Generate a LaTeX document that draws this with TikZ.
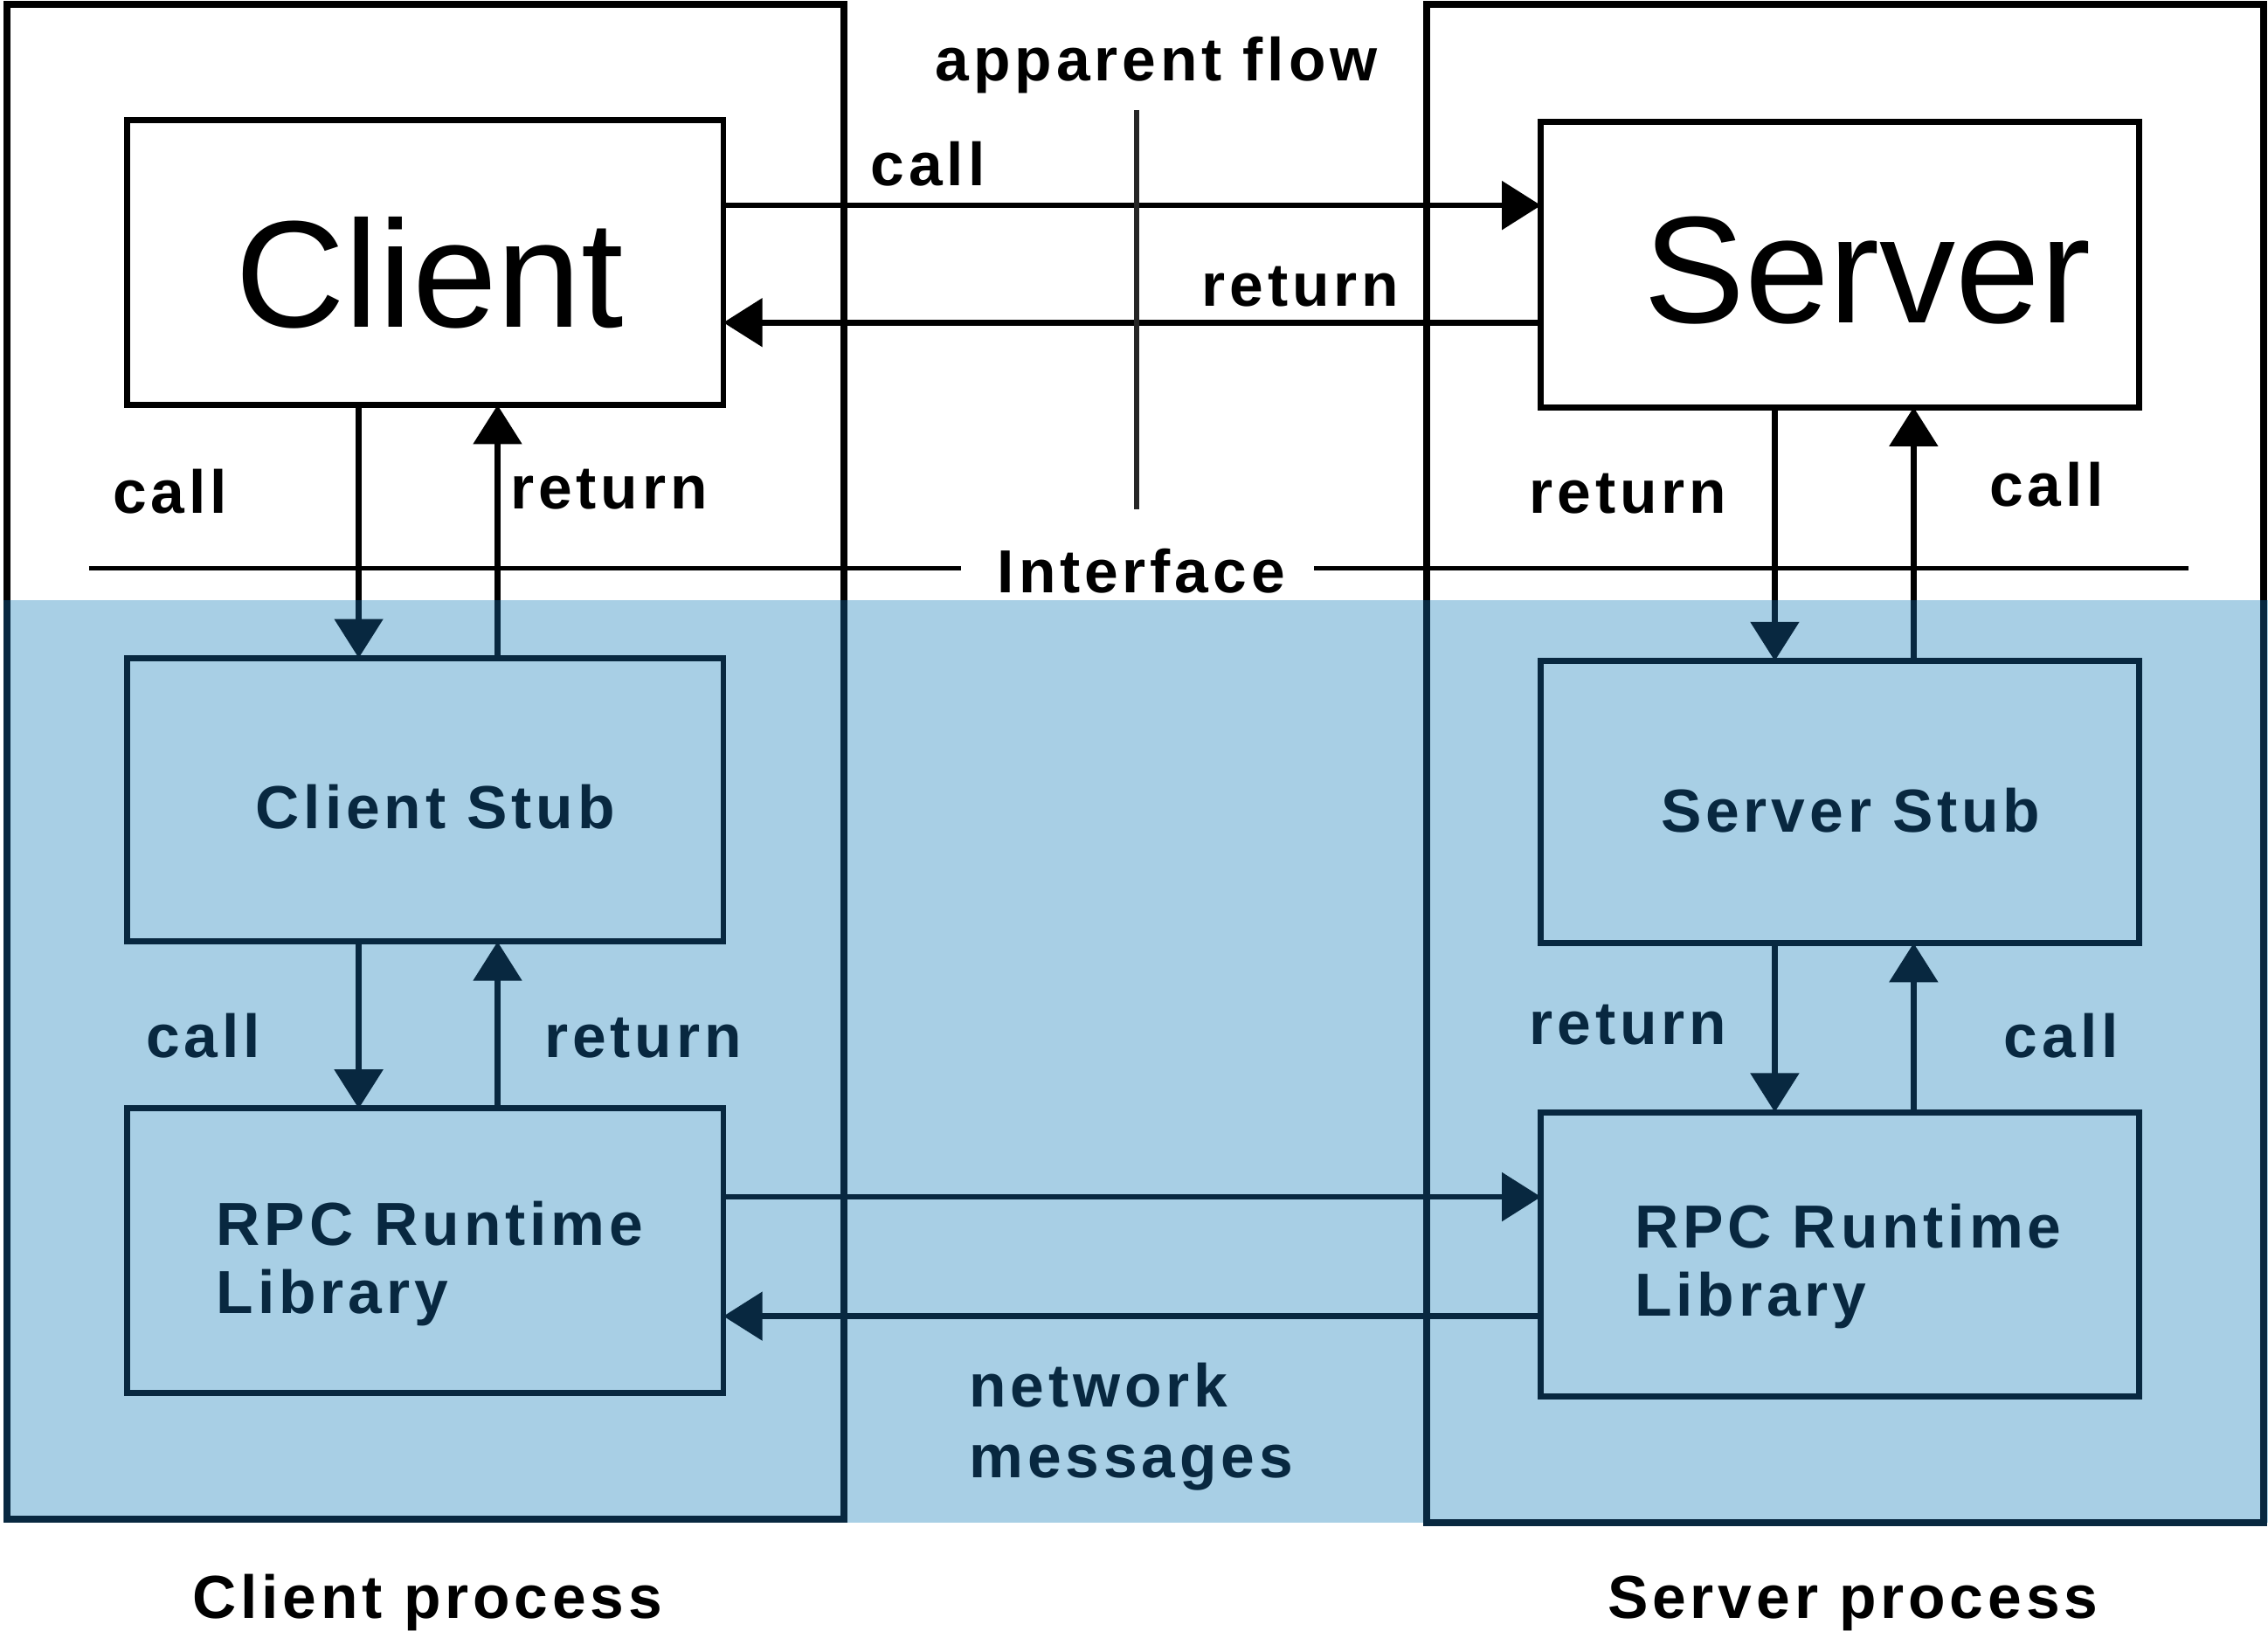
\documentclass[tikz,border=0pt]{standalone}
\usepackage{fontspec}
\setmainfont{Liberation Sans}
\newfontfamily\lblfont[LetterSpace=7]{Liberation Sans}
\usetikzlibrary{arrows.meta}
\definecolor{paneblue}{RGB}{168,207,229}
\definecolor{navy}{RGB}{8,40,64}

% lines that run from the white upper part into the shaded lower part
\newcommand\drawcrossing[1]{%
  \draw[proc, draw=#1] (cpA) rectangle (cpB);
  \draw[proc, draw=#1] (spA) rectangle (spB);
  \draw[arr, color=#1] (client.south -| cxL) -- (cstub.north -| cxL);
  \draw[arr, color=#1] (cstub.north -| cxR) -- (client.south -| cxR);
  \draw[arr, color=#1] (server.south -| sxL) -- (sstub.north -| sxL);
  \draw[arr, color=#1] (sstub.north -| sxR) -- (server.south -| sxR);
}

\begin{document}
\begin{tikzpicture}[x=0.01cm, y=-0.01cm,
  box/.style={draw, line width=1.2pt, minimum width=4.12cm, minimum height=1.97cm,
    inner sep=0pt, outer sep=0pt},
  lbl/.style={font=\lblfont\bfseries\fontsize{11.95}{14}\selectfont, inner sep=0pt, anchor=base},
  big/.style={font=\fontsize{29.9}{34}\selectfont, inner sep=0pt, anchor=base},
  arr/.style={line width=1.15pt, -{Triangle[length=0.27cm, width=0.33cm]}},
  proc/.style={line width=1.4pt},
  lower/.style={text=navy},
]
\fill[white] (0,0) rectangle (1568,1132);
\useasboundingbox (0,0) rectangle (1568,1132);

% shaded band below the interface
\fill[paneblue] (5,415) rectangle (1568,1053);

% process frames
\coordinate (cpA) at (4.6,3);
\coordinate (cpB) at (583.6,1050.5);
\coordinate (spA) at (986.5,3);
\coordinate (spB) at (1565,1053);

% arrow columns and rows
\coordinate (cxL) at (248,0);
\coordinate (cxR) at (344,0);
\coordinate (sxL) at (1227,0);
\coordinate (sxR) at (1323,0);
\coordinate (callY) at (0,142);
\coordinate (retY) at (0,223);
\coordinate (netA) at (0,827.5);
\coordinate (netB) at (0,910);

% boxes
\node[box] (client) at (294,181.5) {};
\node[box, minimum width=4.13cm] (server) at (1272,183) {};
\node[box, draw=navy, minimum height=1.96cm] (cstub) at (294,553) {};
\node[box, draw=navy, minimum width=4.13cm, minimum height=1.95cm] (sstub) at (1272,554.5) {};
\node[box, draw=navy, minimum height=1.965cm] (crpc) at (294,864.75) {};
\node[box, draw=navy, minimum width=4.13cm, minimum height=1.965cm] (srpc) at (1272,867.25) {};

% crossing lines, black above the interface band and navy inside it
\begin{scope}
  \clip (0,0) rectangle (1568,415);
  \drawcrossing{black}
\end{scope}
\begin{scope}
  \clip (0,415) rectangle (1568,1132);
  \drawcrossing{navy}
\end{scope}

% stub <-> runtime library
\draw[arr, color=navy] (cstub.south -| cxL) -- (crpc.north -| cxL);
\draw[arr, color=navy] (crpc.north -| cxR) -- (cstub.south -| cxR);
\draw[arr, color=navy] (sstub.south -| sxL) -- (srpc.north -| sxL);
\draw[arr, color=navy] (srpc.north -| sxR) -- (sstub.south -| sxR);

% apparent flow between client and server
\draw[arr] (client.east |- callY) -- (server.west |- callY);
\draw[arr] (server.west |- retY) -- (client.east |- retY);

% network messages
\draw[arr, color=navy] (crpc.east |- netA) -- (srpc.west |- netA);
\draw[arr, color=navy] (srpc.west |- netB) -- (crpc.east |- netB);

% apparent flow marker
\coordinate (afTop) at (786,76);
\coordinate (afBot) at (786,352);
\draw[line width=1pt, draw=black!85] (afTop) -- (afBot);

% interface line
\node[lbl] (ifc) at (789,410) {Interface};
\coordinate (ifL) at (61.6,393);
\coordinate (ifR) at (1513,393);
\coordinate (ifGapL) at (664.5,393);
\coordinate (ifGapR) at (908.7,393);
\draw[line width=0.8pt] (ifL) -- (ifGapL);
\draw[line width=0.8pt] (ifGapR) -- (ifR);

% titles
\node[big] (tClient) at (297,226) {Client};
\node[big] (tServer) at (1291,223) {Server};

% labels, upper part
\node[lbl] (tAF) at (799.5,56) {apparent flow};
\node[lbl] (tCall) at (641.5,128.6) {call};
\node[lbl] (tRet) at (899,211.5) {return};
\node[lbl] (tCcall) at (117.5,355) {call};
\node[lbl] (tCret) at (421,352) {return};
\node[lbl] (tSret) at (1125.5,355) {return};
\node[lbl] (tScall) at (1415,350) {call};

% labels, shaded part
\node[lbl, lower] (tCstub) at (301,573) {Client Stub};
\node[lbl, lower] (tSstub) at (1279.5,575) {Server Stub};
\node[lbl, lower] (tCcall2) at (140.5,731) {call};
\node[lbl, lower] (tCret2) at (444.5,731) {return};
\node[lbl, lower] (tSret2) at (1125.5,722) {return};
\node[lbl, lower] (tScall2) at (1425,731) {call};
\node[lbl, lower, anchor=base west] (tCrpc1) at (149,861) {RPC Runtime};
\node[lbl, lower, anchor=base west] (tCrpc2) at (149,908) {Library};
\node[lbl, lower, anchor=base west] (tSrpc1) at (1129.5,863) {RPC Runtime};
\node[lbl, lower, anchor=base west] (tSrpc2) at (1129.5,910) {Library};
\node[lbl, lower, anchor=base west] (tNet1) at (669.5,973) {network};
\node[lbl, lower, anchor=base west] (tNet2) at (669.5,1021.5) {messages};

% captions
\node[lbl] (tCproc) at (295.5,1119) {Client process};
\node[lbl] (tSproc) at (1281,1119) {Server process};
\end{tikzpicture}
\end{document}
